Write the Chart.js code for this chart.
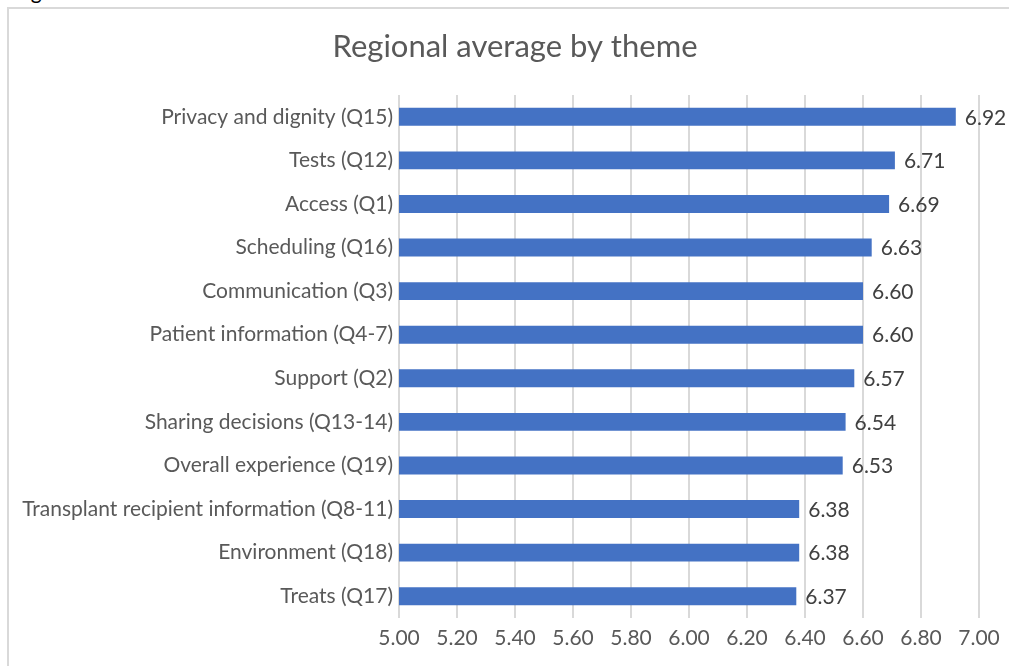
<!DOCTYPE html>
<html>
<head>
<meta charset="utf-8">
<script src="https://cdn.jsdelivr.net/npm/chart.js@4.4.1/dist/chart.umd.min.js"></script>
<style>
  html, body { margin: 0; padding: 0; background: #fff; }
  #wrap { position: relative; width: 1009px; height: 666px; overflow: hidden; }
  #frame { position: absolute; left: 7px; top: 7px; width: 1040px; height: 700px; border: 2px solid #d9d9d9; }
  #cap { position: absolute; left: 14px; top: -22px; font: 21px Lato, sans-serif; color: #000; }
  canvas { position: absolute; left: 0; top: 0; }
</style>
</head>
<body>
<div id="wrap">
  <div id="cap">Figure</div>
  <div id="frame"></div>
  <canvas id="themeChart" width="1009" height="666"></canvas>
</div>
<script>
// Chart data
const themes = [
  'Privacy and dignity (Q15)',
  'Tests (Q12)',
  'Access (Q1)',
  'Scheduling (Q16)',
  'Communication (Q3)',
  'Patient information (Q4-7)',
  'Support (Q2)',
  'Sharing decisions (Q13-14)',
  'Overall experience (Q19)',
  'Transplant recipient information (Q8-11)',
  'Environment (Q18)',
  'Treats (Q17)'
];
const averages = [6.92, 6.71, 6.69, 6.63, 6.60, 6.60, 6.57, 6.54, 6.53, 6.38, 6.38, 6.37];
const axisMin = 5.0;
const axisMax = 7.0;
const axisStep = 0.2;

const FONT = 'Lato, "Open Sans", sans-serif';

// Title + value labels
const extras = {
  id: 'extras',
  afterDatasetsDraw(chart) {
    const c = chart.ctx;
    c.save();
    c.fillStyle = '#404040';
    c.font = '21px ' + FONT;
    c.textBaseline = 'middle';
    c.textAlign = 'left';
    chart.getDatasetMeta(0).data.forEach((bar, i) => {
      c.fillText(averages[i].toFixed(2), bar.x + 9, bar.y + 1);
    });
    c.fillStyle = '#595959';
    c.font = '31px ' + FONT;
    c.textAlign = 'center';
    c.fillText('Regional average by theme', 515, 47);
    c.restore();
  }
};

const ctx = document.getElementById('themeChart').getContext('2d');
new Chart(ctx, {
  type: 'bar',
  data: {
    labels: themes,
    datasets: [{
      data: averages,
      backgroundColor: '#4472c4',
      borderWidth: 0,
      barPercentage: 0.82,
      categoryPercentage: 0.5
    }]
  },
  options: {
    indexAxis: 'y',
    responsive: false,
    animation: false,
    layout: { padding: { top: 95, right: 30, left: 0, bottom: 0 } },
    plugins: { legend: { display: false }, tooltip: { enabled: false } },
    scales: {
      x: {
        min: axisMin,
        max: axisMax,
        ticks: {
          stepSize: axisStep,
          padding: 8,
          color: '#595959',
          font: { family: FONT, size: 21 },
          callback: v => Number(v).toFixed(2)
        },
        grid: { color: '#d9d9d9', lineWidth: 2, drawTicks: false },
        border: { display: false },
        afterFit: s => { s.height = 48; }
      },
      y: {
        ticks: {
          padding: 6,
          color: '#595959',
          font: { family: FONT, size: 21 },
          autoSkip: false
        },
        grid: { display: false, drawTicks: false },
        border: { display: false },
        afterFit: s => { s.width = 399; }
      }
    }
  },
  plugins: [extras]
});
</script>
</body>
</html>
